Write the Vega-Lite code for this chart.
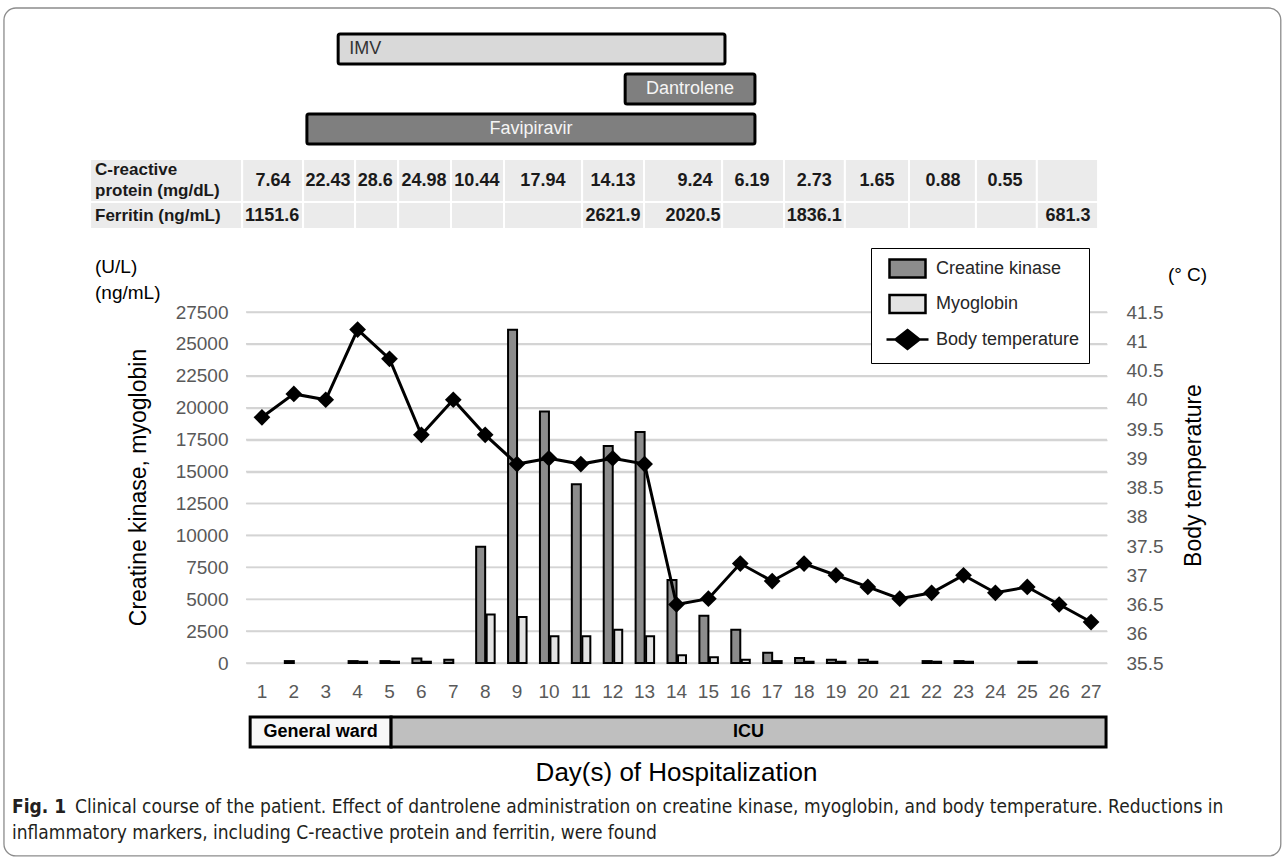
{
  "$schema": "https://vega.github.io/schema/vega-lite/v6.json",
  "width": 861,
  "height": 351,
  "autosize": {"type": "none"},
  "padding": {"left": 246, "top": 312, "right": 178, "bottom": 197},
  "background": "white",
  "config": {"view": {"stroke": null}, "font": "Liberation Sans"},
  "datasets": {
    "days": [
      {"day": 1, "ck": null, "mb": null, "temp": 39.7},
      {"day": 2, "ck": 150, "mb": null, "temp": 40.1},
      {"day": 3, "ck": null, "mb": null, "temp": 40.0},
      {"day": 4, "ck": 150, "mb": 100, "temp": 41.2},
      {"day": 5, "ck": 150, "mb": 100, "temp": 40.7},
      {"day": 6, "ck": 350, "mb": 100, "temp": 39.4},
      {"day": 7, "ck": 250, "mb": null, "temp": 40.0},
      {"day": 8, "ck": 9100, "mb": 3800, "temp": 39.4},
      {"day": 9, "ck": 26100, "mb": 3600, "temp": 38.9},
      {"day": 10, "ck": 19700, "mb": 2100, "temp": 39.0},
      {"day": 11, "ck": 14000, "mb": 2100, "temp": 38.9},
      {"day": 12, "ck": 17000, "mb": 2600, "temp": 39.0},
      {"day": 13, "ck": 18100, "mb": 2100, "temp": 38.9},
      {"day": 14, "ck": 6500, "mb": 600, "temp": 36.5},
      {"day": 15, "ck": 3700, "mb": 450, "temp": 36.6},
      {"day": 16, "ck": 2600, "mb": 250, "temp": 37.2},
      {"day": 17, "ck": 800, "mb": 150, "temp": 36.9},
      {"day": 18, "ck": 400, "mb": 100, "temp": 37.2},
      {"day": 19, "ck": 250, "mb": 100, "temp": 37.0},
      {"day": 20, "ck": 250, "mb": 100, "temp": 36.8},
      {"day": 21, "ck": null, "mb": null, "temp": 36.6},
      {"day": 22, "ck": 150, "mb": 100, "temp": 36.7},
      {"day": 23, "ck": 150, "mb": 100, "temp": 37.0},
      {"day": 24, "ck": null, "mb": null, "temp": 36.7},
      {"day": 25, "ck": 100, "mb": 100, "temp": 36.8},
      {"day": 26, "ck": null, "mb": null, "temp": 36.5},
      {"day": 27, "ck": null, "mb": null, "temp": 36.2}
    ],
    "drugs": [
      {"drug": "IMV", "lane": 1, "start": 3.39, "end": 15.52},
      {"drug": "Dantrolene", "lane": 2, "start": 12.39, "end": 16.46},
      {"drug": "Favipiravir", "lane": 3, "start": 2.41, "end": 16.46}
    ],
    "columns": [
      {"from": -4.39, "to": 0.38},
      {"from": 0.38, "to": 2.29},
      {"from": 2.29, "to": 3.92},
      {"from": 3.92, "to": 5.27},
      {"from": 5.27, "to": 6.93},
      {"from": 6.93, "to": 8.59},
      {"from": 8.59, "to": 11.04},
      {"from": 11.04, "to": 12.98},
      {"from": 12.98, "to": 15.43},
      {"from": 15.43, "to": 17.37},
      {"from": 17.37, "to": 19.28},
      {"from": 19.28, "to": 21.29},
      {"from": 21.29, "to": 23.39},
      {"from": 23.39, "to": 25.3},
      {"from": 25.3, "to": 27.22}
    ],
    "labs": [
      {"marker": "CRP", "row": 1, "pos": 1.35, "value": "7.64"},
      {"marker": "CRP", "row": 1, "pos": 3.07, "value": "22.43"},
      {"marker": "CRP", "row": 1, "pos": 4.55, "value": "28.6"},
      {"marker": "CRP", "row": 1, "pos": 6.08, "value": "24.98"},
      {"marker": "CRP", "row": 1, "pos": 7.74, "value": "10.44"},
      {"marker": "CRP", "row": 1, "pos": 9.81, "value": "17.94"},
      {"marker": "CRP", "row": 1, "pos": 12.01, "value": "14.13"},
      {"marker": "CRP", "row": 1, "pos": 14.58, "value": "9.24"},
      {"marker": "CRP", "row": 1, "pos": 16.37, "value": "6.19"},
      {"marker": "CRP", "row": 1, "pos": 18.32, "value": "2.73"},
      {"marker": "CRP", "row": 1, "pos": 20.29, "value": "1.65"},
      {"marker": "CRP", "row": 1, "pos": 22.36, "value": "0.88"},
      {"marker": "CRP", "row": 1, "pos": 24.3, "value": "0.55"},
      {"marker": "Ferritin", "row": 2, "pos": 1.32, "value": "1151.6"},
      {"marker": "Ferritin", "row": 2, "pos": 12.01, "value": "2621.9"},
      {"marker": "Ferritin", "row": 2, "pos": 14.52, "value": "2020.5"},
      {"marker": "Ferritin", "row": 2, "pos": 18.32, "value": "1836.1"},
      {"marker": "Ferritin", "row": 2, "pos": 26.28, "value": "681.3"}
    ],
    "rowlabels": [
      {"row": 1, "label": "C-reactive\nprotein (mg/dL)"},
      {"row": 2, "label": "Ferritin (ng/mL)"}
    ],
    "wards": [
      {"ward": "General ward", "from": 0.63, "to": 5.05},
      {"ward": "ICU", "from": 5.05, "to": 27.47}
    ]
  },
  "layer": [
    {
      "data": {"values": [{}]},
      "mark": {"type": "rect", "fillOpacity": 0, "stroke": "#8c8c8c", "strokeWidth": 1.3, "cornerRadius": 12},
      "encoding": {
        "x": {"datum": -7.09, "type": "quantitative", "scale": {"domain": [0.5, 27.5], "nice": false, "zero": false, "padding": 0}, "axis": null},
        "x2": {"datum": 32.95},
        "y": {"datum": -29.73, "type": "quantitative", "scale": {"domain": [-18.038, -4.538], "nice": false, "zero": false, "reverse": true, "padding": 0}, "axis": null},
        "y2": {"datum": 2.884}
      }
    },
    {
      "data": {"values": [
        {"level": 0}, {"level": 2500}, {"level": 5000}, {"level": 7500}, {"level": 10000}, {"level": 12500},
        {"level": 15000}, {"level": 17500}, {"level": 20000}, {"level": 22500}, {"level": 25000}, {"level": 27500}
      ]},
      "mark": {"type": "rule", "stroke": "#d4d4d4", "strokeWidth": 1.6},
      "encoding": {
        "x": {"datum": 0.5, "type": "quantitative", "scale": {"domain": [0.5, 27.5], "nice": false, "zero": false, "padding": 0}, "axis": null},
        "x2": {"datum": 27.5},
        "y": {"field": "level", "type": "quantitative", "scale": {"domain": [0, 27500], "nice": false, "zero": false, "padding": 0}, "axis": null}
      }
    },
    {
      "data": {"name": "days"},
      "mark": {"type": "bar", "width": 9, "xOffset": -4.5, "stroke": "black", "strokeWidth": 2},
      "encoding": {
        "x": {"field": "day", "type": "quantitative", "scale": {"domain": [0.5, 27.5], "nice": false, "zero": false, "padding": 0}, "axis": null},
        "y": {
          "field": "ck", "type": "quantitative", "stack": null,
          "scale": {"domain": [0, 27500], "nice": false, "zero": false, "padding": 0},
          "axis": {"orient": "left", "values": [0,2500,5000,7500,10000,12500,15000,17500,20000,22500,25000,27500], "format": "d", "grid": true, "gridColor": "#d4d4d4", "gridWidth": 1.6, "domain": false, "ticks": false, "labelFontSize": 19, "labelColor": "#595959", "labelPadding": 18, "title": "Creatine kinase, myoglobin", "titleFontSize": 23, "titleFontWeight": "normal", "titleColor": "black", "titleX": -108, "titleY": 175, "titleAngle": 270, "titleAlign": "center", "titleBaseline": "middle"}
        },
        "color": {
          "datum": "Creatine kinase", "type": "nominal",
          "scale": {"domain": ["Creatine kinase", "Myoglobin", "Body temperature"], "range": ["#8c8c8c", "#e3e3e3", "black"]},
          "legend": {
            "orient": "none", "legendX": 625, "legendY": -64, "title": null, "padding": 9,
            "labelFontSize": 18, "labelColor": "#262626", "labelOffset": 17, "symbolOffset": 16,
            "symbolSize": 400, "rowPadding": 6.5, "fillColor": "white", "strokeColor": "black",
            "symbolStrokeColor": "black", "symbolStrokeWidth": 2.5
          }
        }
      }
    },
    {
      "data": {"name": "days"},
      "mark": {"type": "bar", "width": 8, "xOffset": 5.5, "stroke": "black", "strokeWidth": 2},
      "encoding": {
        "x": {"field": "day", "type": "quantitative", "scale": {"domain": [0.5, 27.5], "nice": false, "zero": false, "padding": 0}, "axis": null},
        "y": {"field": "mb", "type": "quantitative", "stack": null, "scale": {"domain": [0, 27500], "nice": false, "zero": false, "padding": 0}, "axis": null},
        "color": {"datum": "Myoglobin", "type": "nominal", "scale": {"domain": ["Creatine kinase", "Myoglobin", "Body temperature"], "range": ["#8c8c8c", "#e3e3e3", "black"]}}
      }
    },
    {
      "data": {"name": "days"},
      "transform": [{"filter": "false"}],
      "mark": {"type": "point", "filled": true, "stroke": "black"},
      "encoding": {
        "x": {"field": "day", "type": "quantitative", "scale": {"domain": [0.5, 27.5], "nice": false, "zero": false, "padding": 0}, "axis": null},
        "y": {"field": "temp", "type": "quantitative", "scale": {"domain": [35.5, 41.5], "nice": false, "zero": false, "padding": 0}, "axis": null},
        "shape": {
          "datum": "Body temperature", "type": "nominal",
          "scale": {"domain": ["Creatine kinase", "Myoglobin", "Body temperature"], "range": ["M-1.8,-0.9H1.8V0.9H-1.8Z", "M-1.8,-0.9H1.8V0.9H-1.8Z", "M-2.1,0H2.1M0,-0.95L1.2,0L0,0.95L-1.2,0Z"]},
          "legend": {
            "orient": "none", "legendX": 625, "legendY": -64, "title": null, "padding": 9,
            "labelFontSize": 18, "labelColor": "#262626", "labelOffset": 17, "symbolOffset": 16,
            "symbolSize": 400, "rowPadding": 6.5, "fillColor": "white", "strokeColor": "black",
            "symbolStrokeColor": "black", "symbolStrokeWidth": 2.5
          }
        }
      }
    },
    {
      "data": {"name": "days"},
      "mark": {"type": "line", "color": "black", "strokeWidth": 3, "point": {"shape": "diamond", "size": 280, "filled": true, "color": "black"}},
      "encoding": {
        "x": {"field": "day", "type": "quantitative", "scale": {"domain": [0.5, 27.5], "nice": false, "zero": false, "padding": 0}, "axis": null},
        "y": {
          "field": "temp", "type": "quantitative",
          "scale": {"domain": [35.5, 41.5], "nice": false, "zero": false, "padding": 0},
          "axis": {"orient": "right", "values": [35.5,36,36.5,37,37.5,38,38.5,39,39.5,40,40.5,41,41.5], "format": ".3~g", "grid": false, "domain": false, "ticks": false, "labelFontSize": 19, "labelColor": "#595959", "labelPadding": 19, "title": "Body temperature", "titleFontSize": 23, "titleFontWeight": "normal", "titleColor": "black", "titleX": 86, "titleY": 163, "titleAngle": 270, "titleAlign": "center", "titleBaseline": "middle"}
        }
      }
    },
    {
      "data": {"name": "days"},
      "mark": {"type": "text", "fontSize": 19, "align": "center", "baseline": "middle", "color": "#595959"},
      "encoding": {
        "x": {"field": "day", "type": "quantitative", "scale": {"domain": [0.5, 27.5], "nice": false, "zero": false, "padding": 0}, "axis": null},
        "y": {"datum": -2272, "type": "quantitative", "scale": {"domain": [0, 27500], "nice": false, "zero": false, "padding": 0}, "axis": null},
        "text": {"field": "day", "type": "quantitative", "format": "d"}
      }
    },
    {
      "data": {"values": [{}]},
      "mark": {"type": "text", "fontSize": 26, "align": "center", "baseline": "middle", "color": "black"},
      "encoding": {
        "x": {"datum": 14, "type": "quantitative", "scale": {"domain": [0.5, 27.5], "nice": false, "zero": false, "padding": 0}, "axis": null},
        "y": {"datum": -8618, "type": "quantitative", "scale": {"domain": [0, 27500], "nice": false, "zero": false, "padding": 0}, "axis": null},
        "text": {"value": "Day(s) of Hospitalization"}
      }
    },
    {
      "data": {"values": [{}]},
      "mark": {"type": "text", "font": "Liberation Sans Narrow, DejaVu Sans Condensed, sans-serif", "fontSize": 19, "fontWeight": "bold", "align": "left", "baseline": "middle", "color": "#231f20"},
      "encoding": {
        "x": {"datum": -6.838, "type": "quantitative", "scale": {"domain": [0.5, 27.5], "nice": false, "zero": false, "padding": 0}, "axis": null},
        "y": {"datum": 1, "type": "quantitative", "scale": {"domain": [-18.038, -4.538], "nice": false, "zero": false, "reverse": true, "padding": 0}, "axis": null},
        "text": {"value": "Fig. 1"}
      }
    },
    {
      "data": {"values": [{}]},
      "mark": {"type": "text", "font": "Liberation Sans Narrow, DejaVu Sans Condensed, sans-serif", "fontSize": 19, "align": "left", "baseline": "middle", "color": "#231f20"},
      "encoding": {
        "x": {"datum": -4.862, "type": "quantitative", "scale": {"domain": [0.5, 27.5], "nice": false, "zero": false, "padding": 0}, "axis": null},
        "y": {"datum": 1, "type": "quantitative", "scale": {"domain": [-18.038, -4.538], "nice": false, "zero": false, "reverse": true, "padding": 0}, "axis": null},
        "text": {"value": "Clinical course of the patient. Effect of dantrolene administration on creatine kinase, myoglobin, and body temperature. Reductions in"}
      }
    },
    {
      "data": {"values": [{}]},
      "mark": {"type": "text", "font": "Liberation Sans Narrow, DejaVu Sans Condensed, sans-serif", "fontSize": 19, "align": "left", "baseline": "middle", "color": "#231f20"},
      "encoding": {
        "x": {"datum": -6.838, "type": "quantitative", "scale": {"domain": [0.5, 27.5], "nice": false, "zero": false, "padding": 0}, "axis": null},
        "y": {"datum": 2, "type": "quantitative", "scale": {"domain": [-18.038, -4.538], "nice": false, "zero": false, "reverse": true, "padding": 0}, "axis": null},
        "text": {"value": "inflammatory markers, including C-reactive protein and ferritin, were found"}
      }
    },
    {
      "data": {"name": "columns"},
      "mark": {"type": "bar", "height": 43, "fill": "#ebebeb", "stroke": "white", "strokeWidth": 2},
      "encoding": {
        "x": {"field": "from", "type": "quantitative", "scale": {"domain": [0.5, 27.5], "nice": false, "zero": false, "padding": 0}, "axis": null},
        "x2": {"field": "to"},
        "y": {"datum": 1, "type": "quantitative", "scale": {"domain": [4.757, 14.786], "nice": false, "zero": false, "reverse": true, "padding": 0}, "axis": null}
      }
    },
    {
      "data": {"name": "columns"},
      "mark": {"type": "bar", "height": 27, "fill": "#ebebeb", "stroke": "white", "strokeWidth": 2},
      "encoding": {
        "x": {"field": "from", "type": "quantitative", "scale": {"domain": [0.5, 27.5], "nice": false, "zero": false, "padding": 0}, "axis": null},
        "x2": {"field": "to"},
        "y": {"datum": 2, "type": "quantitative", "scale": {"domain": [4.757, 14.786], "nice": false, "zero": false, "reverse": true, "padding": 0}, "axis": null}
      }
    },
    {
      "data": {"name": "rowlabels"},
      "transform": [{"filter": "datum.row === 1"}],
      "mark": {"type": "text", "fontSize": 17, "fontWeight": "bold", "align": "left", "baseline": "middle", "lineHeight": 21, "lineBreak": "\n", "dy": -10.5, "color": "#1a1a1a"},
      "encoding": {
        "x": {"datum": -4.235, "type": "quantitative", "scale": {"domain": [0.5, 27.5], "nice": false, "zero": false, "padding": 0}, "axis": null},
        "y": {"field": "row", "type": "quantitative", "scale": {"domain": [4.757, 14.786], "nice": false, "zero": false, "reverse": true, "padding": 0}, "axis": null},
        "text": {"field": "label"}
      }
    },
    {
      "data": {"name": "rowlabels"},
      "transform": [{"filter": "datum.row === 2"}],
      "mark": {"type": "text", "fontSize": 17, "fontWeight": "bold", "align": "left", "baseline": "middle", "color": "#1a1a1a"},
      "encoding": {
        "x": {"datum": -4.235, "type": "quantitative", "scale": {"domain": [0.5, 27.5], "nice": false, "zero": false, "padding": 0}, "axis": null},
        "y": {"field": "row", "type": "quantitative", "scale": {"domain": [4.757, 14.786], "nice": false, "zero": false, "reverse": true, "padding": 0}, "axis": null},
        "text": {"field": "label"}
      }
    },
    {
      "data": {"name": "labs"},
      "mark": {"type": "text", "fontSize": 18, "fontWeight": "bold", "align": "center", "baseline": "middle", "color": "#1a1a1a"},
      "encoding": {
        "x": {"field": "pos", "type": "quantitative", "scale": {"domain": [0.5, 27.5], "nice": false, "zero": false, "padding": 0}, "axis": null},
        "y": {"field": "row", "type": "quantitative", "scale": {"domain": [4.757, 14.786], "nice": false, "zero": false, "reverse": true, "padding": 0}, "axis": null},
        "text": {"field": "value"}
      }
    },
    {
      "data": {"name": "drugs"},
      "mark": {"type": "bar", "height": 30, "stroke": "black", "strokeWidth": 3, "cornerRadius": 2},
      "encoding": {
        "x": {"field": "start", "type": "quantitative", "scale": {"domain": [0.5, 27.5], "nice": false, "zero": false, "padding": 0}, "axis": null},
        "x2": {"field": "end"},
        "y": {"field": "lane", "type": "quantitative", "scale": {"domain": [7.575, 16.35], "nice": false, "zero": false, "reverse": true, "padding": 0}, "axis": null},
        "fill": {"condition": {"test": "datum.drug === 'IMV'", "value": "#d9d9d9"}, "value": "#7f7f7f"}
      }
    },
    {
      "data": {"name": "drugs"},
      "transform": [{"filter": "datum.drug === 'IMV'"}],
      "mark": {"type": "text", "fontSize": 18, "align": "left", "baseline": "middle", "dx": 11, "color": "#333333"},
      "encoding": {
        "x": {"field": "start", "type": "quantitative", "scale": {"domain": [0.5, 27.5], "nice": false, "zero": false, "padding": 0}, "axis": null},
        "y": {"field": "lane", "type": "quantitative", "scale": {"domain": [7.575, 16.35], "nice": false, "zero": false, "reverse": true, "padding": 0}, "axis": null},
        "text": {"field": "drug"}
      }
    },
    {
      "data": {"name": "drugs"},
      "transform": [
        {"filter": "datum.drug !== 'IMV'"},
        {"fold": ["start", "end"], "as": ["edge", "pos"]},
        {"aggregate": [{"op": "mean", "field": "pos", "as": "mid"}], "groupby": ["drug", "lane"]}
      ],
      "mark": {"type": "text", "fontSize": 18, "align": "center", "baseline": "middle", "color": "#f5f5f5"},
      "encoding": {
        "x": {"field": "mid", "type": "quantitative", "scale": {"domain": [0.5, 27.5], "nice": false, "zero": false, "padding": 0}, "axis": null},
        "y": {"field": "lane", "type": "quantitative", "scale": {"domain": [7.575, 16.35], "nice": false, "zero": false, "reverse": true, "padding": 0}, "axis": null},
        "text": {"field": "drug"}
      }
    },
    {
      "data": {"name": "wards"},
      "mark": {"type": "bar", "height": 30, "stroke": "black", "strokeWidth": 3},
      "encoding": {
        "x": {"field": "from", "type": "quantitative", "scale": {"domain": [0.5, 27.5], "nice": false, "zero": false, "padding": 0}, "axis": null},
        "x2": {"field": "to"},
        "y": {"datum": 1, "type": "quantitative", "scale": {"domain": [-13, -1.3], "nice": false, "zero": false, "reverse": true, "padding": 0}, "axis": null},
        "fill": {"condition": {"test": "datum.ward === 'ICU'", "value": "#bfbfbf"}, "value": "#f7f7f7"}
      }
    },
    {
      "data": {"name": "wards"},
      "transform": [
        {"fold": ["from", "to"], "as": ["edge", "pos"]},
        {"aggregate": [{"op": "mean", "field": "pos", "as": "mid"}], "groupby": ["ward"]}
      ],
      "mark": {"type": "text", "fontSize": 18, "fontWeight": "bold", "align": "center", "baseline": "middle", "color": "black"},
      "encoding": {
        "x": {"field": "mid", "type": "quantitative", "scale": {"domain": [0.5, 27.5], "nice": false, "zero": false, "padding": 0}, "axis": null},
        "y": {"datum": 1, "type": "quantitative", "scale": {"domain": [-13, -1.3], "nice": false, "zero": false, "reverse": true, "padding": 0}, "axis": null},
        "text": {"field": "ward"}
      }
    },
    {
      "data": {"values": [{}]},
      "mark": {"type": "text", "fontSize": 19, "align": "left", "baseline": "middle", "lineBreak": "\n", "lineHeight": 26, "dy": -13, "color": "black"},
      "encoding": {
        "x": {"datum": -4.235, "type": "quantitative", "scale": {"domain": [0.5, 27.5], "nice": false, "zero": false, "padding": 0}, "axis": null},
        "y": {"datum": 30007, "type": "quantitative", "scale": {"domain": [0, 27500], "nice": false, "zero": false, "padding": 0}, "axis": null},
        "text": {"value": "(U/L)\n(ng/mL)"}
      }
    },
    {
      "data": {"values": [{}]},
      "mark": {"type": "text", "fontSize": 19, "align": "left", "baseline": "middle", "color": "black"},
      "encoding": {
        "x": {"datum": 29.41, "type": "quantitative", "scale": {"domain": [0.5, 27.5], "nice": false, "zero": false, "padding": 0}, "axis": null},
        "y": {"datum": 42.132, "type": "quantitative", "scale": {"domain": [35.5, 41.5], "nice": false, "zero": false, "padding": 0}, "axis": null},
        "text": {"value": "(°  C)"}
      }
    }
  ],
  "resolve": {"scale": {"y": "independent"}}
}
